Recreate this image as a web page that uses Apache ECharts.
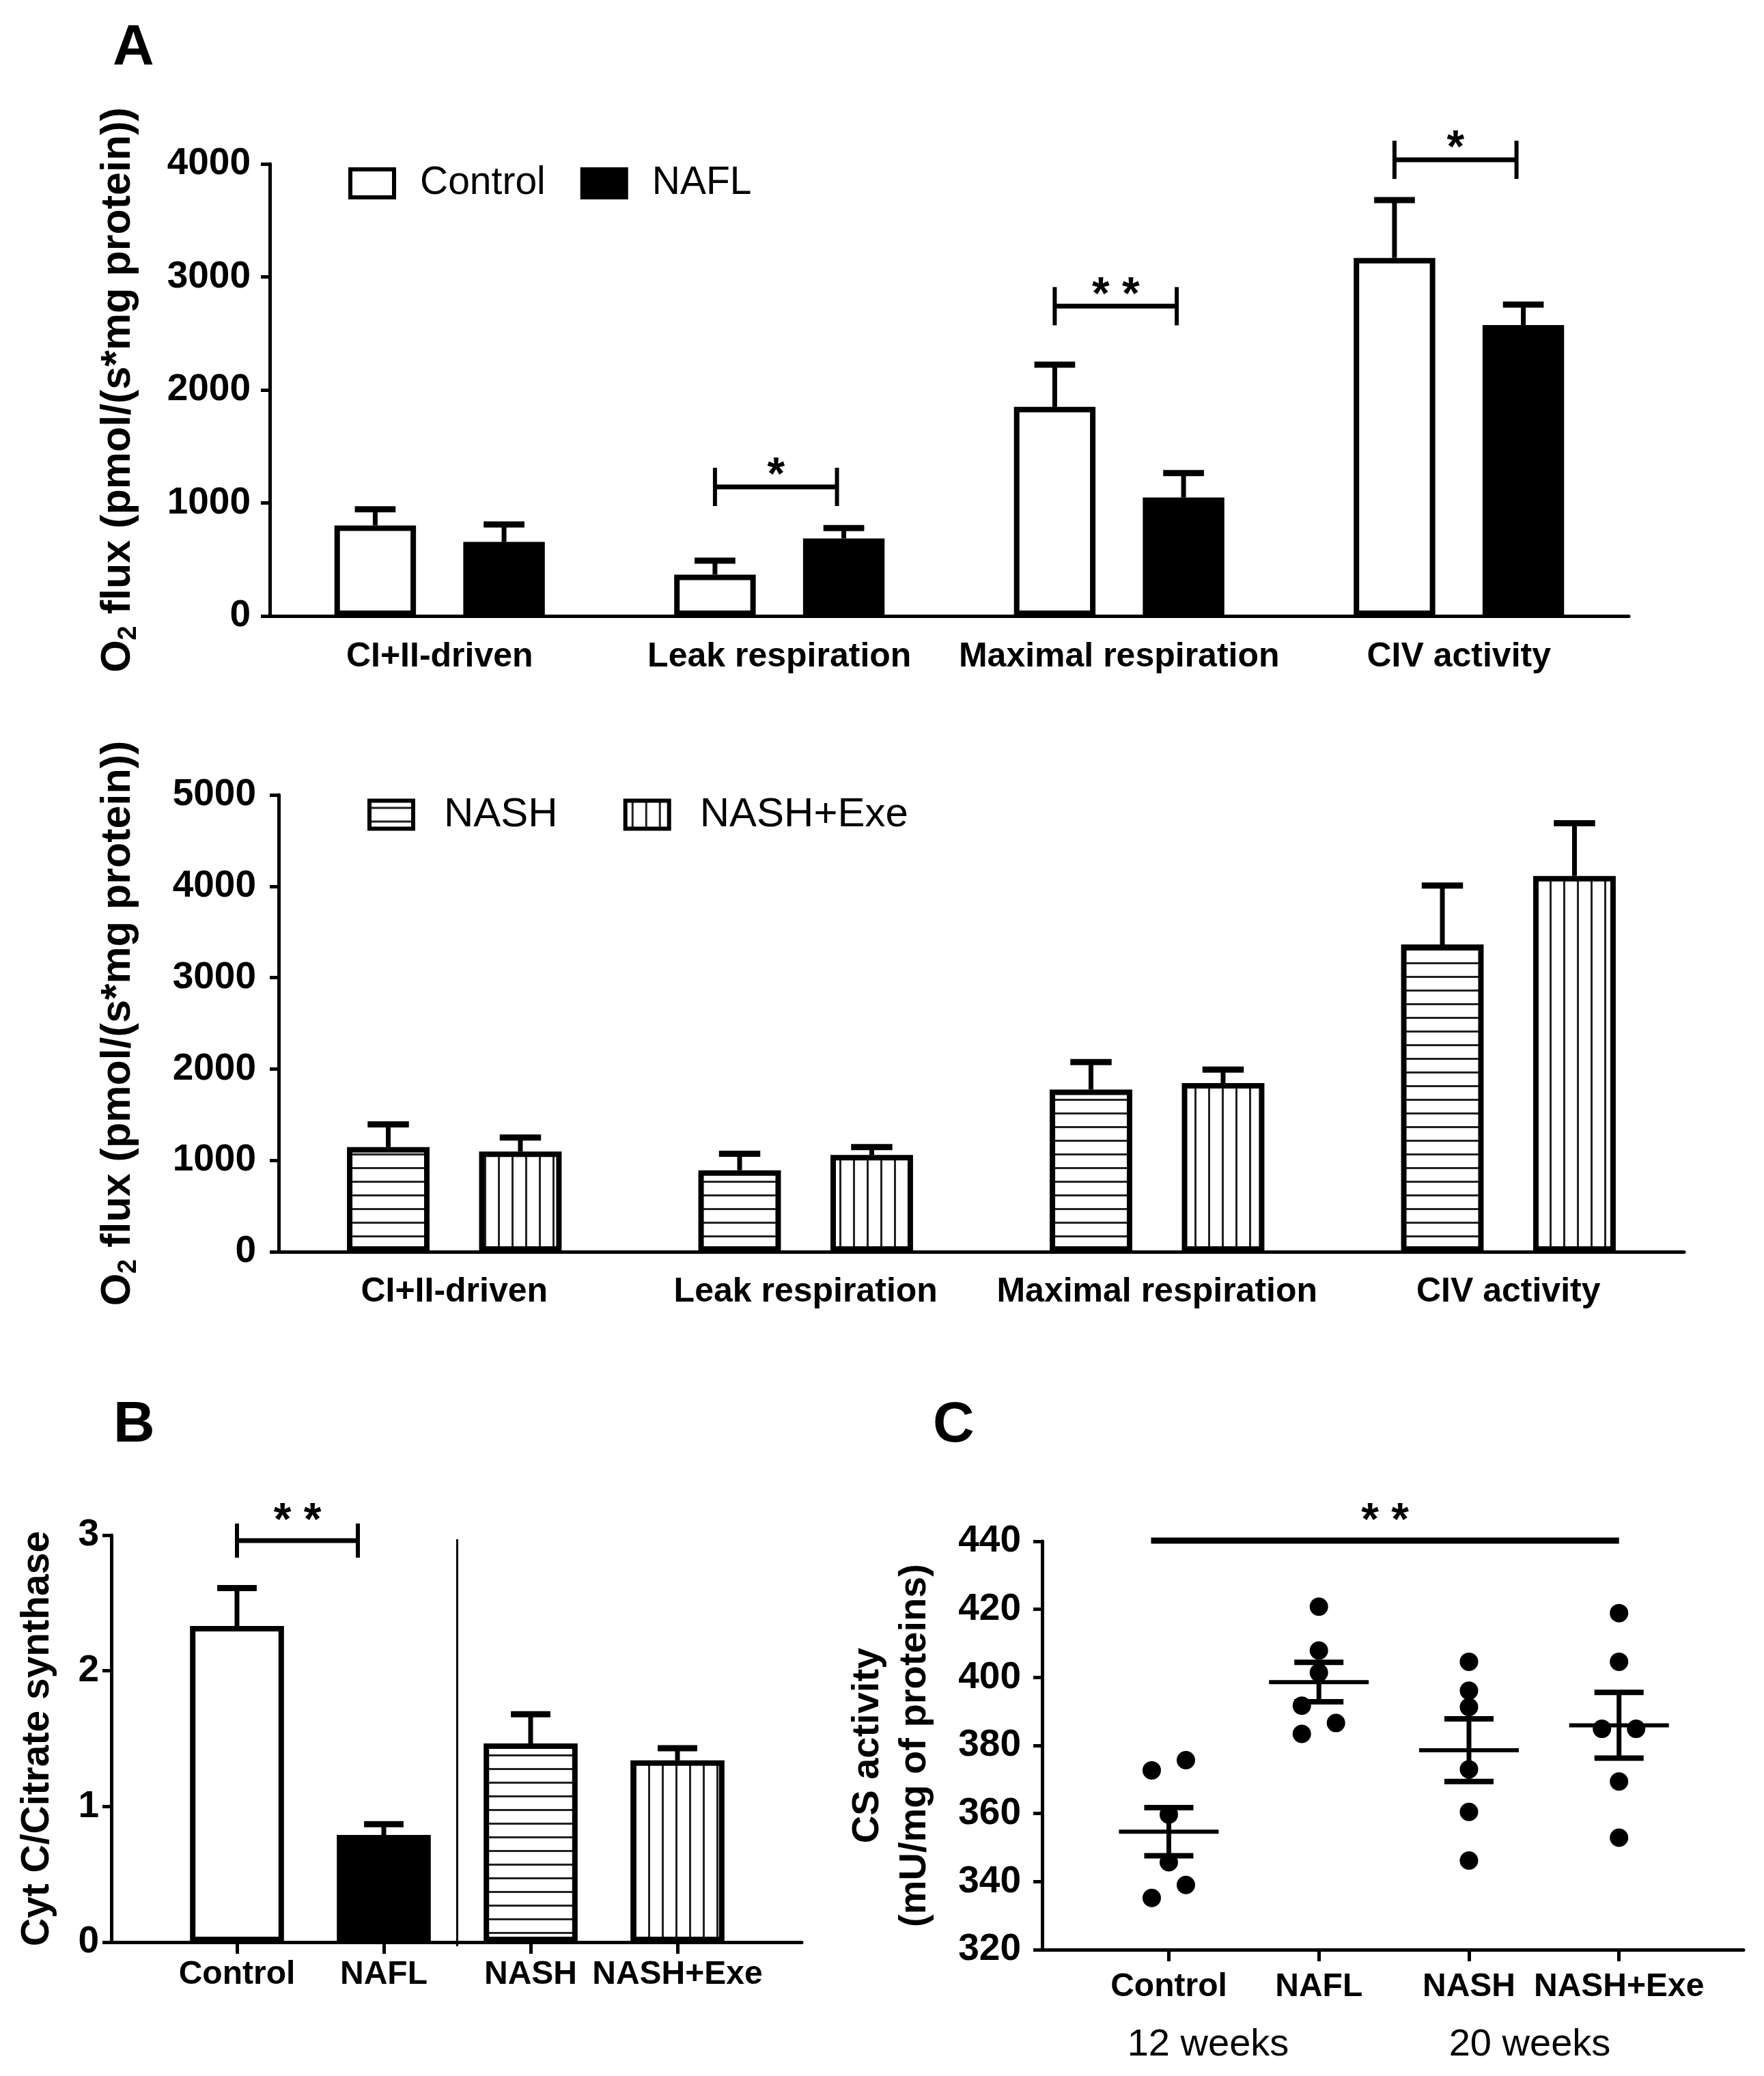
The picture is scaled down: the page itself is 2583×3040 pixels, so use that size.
<!DOCTYPE html>
<html><head><meta charset="utf-8">
<script src="https://cdn.jsdelivr.net/npm/echarts@6/dist/echarts.min.js"></script>
<style>html,body{margin:0;padding:0;background:#fff}#c{width:2583px;height:3040px}</style>
</head><body><div id="c"></div>
<script>
// ---------- DATA ----------
const respCategories = ['CI+II-driven', 'Leak respiration', 'Maximal respiration', 'CIV activity'];
const controlMean = [801, 366, 1850, 3168];
const controlSem  = [143, 123, 373, 512];
const naflMean    = [655, 686, 1048, 2574];
const naflSem     = [154, 92, 216, 181];
const nashMean    = [1145, 892, 1775, 3363];
const nashSem     = [248, 181, 300, 645];
const exeMean     = [1097, 1059, 1846, 4113];
const exeSem      = [153, 86, 148, 577];
const topSigCats   = [1, 2, 3];
const topSigY      = [1142, 2741, 4036];
const topSigLabels = ['*', '* *', '*'];

const groupCategories = ['Control', 'NAFL', 'NASH', 'NASH+Exe'];
const cytcMean = [2.33, 0.79, 1.465, 1.34];
const cytcSem  = [0.28, 0.08, 0.215, 0.09];
const cytcSig  = [[0, 1, 2.96, '* *']];
const cytcDivider = [[1, 2.97]];

const csControl = [372.7, 375.7, 359.7, 345.7, 339.0, 335.2];
const csNafl    = [420.8, 407.9, 401.4, 391.7, 386.6, 383.4];
const csNash    = [404.6, 396.1, 391.3, 373.0, 360.5, 346.2];
const csExe     = [418.9, 404.6, 384.9, 384.9, 369.4, 352.9];
const csControlJit = [-1, 1, 0, 0, 1, -1];
const csNaflJit    = [0, 0, 0, -1, 1, -1];
const csNashJit    = [0, 0, 0, 0, 0, 0];
const csExeJit     = [0, 0, -1, 1, 0, 0];
const csSig = [[0, 3, 440.2, '* *']];
const weekLabels = ['12 weeks', '20 weeks'];

// ---------- STYLE HELPERS ----------
const FONT = '"Liberation Sans", Arial, Helvetica, sans-serif';
function stripes(horizontal) {
  const c = document.createElement('canvas');
  c.width = 20; c.height = 20;
  const g = c.getContext('2d');
  g.fillStyle = '#fff'; g.fillRect(0, 0, 20, 20);
  g.fillStyle = '#222';
  if (horizontal) g.fillRect(0, 9, 20, 3); else g.fillRect(9, 0, 3, 20);
  return { image: c, repeat: 'repeat' };
}
const hPat = stripes(true), vPat = stripes(false);

function offs(bw, gap) { const tot = 2 * bw + gap * bw; return [-tot / 2 + bw / 2, tot / 2 - bw / 2]; }
const BW_A1 = 0.24, GAP_A1 = 0.58, BW_A2 = 0.235, GAP_A2 = 0.60, BW_B = 0.64;
const OFF_A1 = offs(BW_A1, GAP_A1), OFF_A2 = offs(BW_A2, GAP_A2);
const BORDER = 8;

function catAxis(grid, data, fs, margin, ticks, line) {
  return {
    type: 'category', gridIndex: grid, data: data,
    axisLine: { show: line, onZero: false, lineStyle: { color: '#000', width: 5 } },
    axisTick: { show: ticks, alignWithLabel: true, length: 17, lineStyle: { color: '#000', width: 5 } },
    axisLabel: { interval: 0, margin: margin, fontSize: fs, fontWeight: 'bold', color: '#000', fontFamily: FONT, lineHeight: fs + 4 },
    splitLine: { show: false }
  };
}
function lineAxis(grid) {
  return { type: 'value', gridIndex: grid, min: 0, max: 1,
    axisLine: { show: true, onZero: false, lineStyle: { color: '#000', width: 5 } },
    axisTick: { show: false }, axisLabel: { show: false }, splitLine: { show: false } };
}
function valAxis(grid, min, max, interval, margin, name, nameGap, nameStyle, show) {
  return {
    type: 'value', gridIndex: grid, min: min, max: max, interval: interval, show: show,
    axisLine: { show: true, onZero: false, lineStyle: { color: '#000', width: 5 } },
    axisTick: { show: true, length: 13, lineStyle: { color: '#000', width: 5 } },
    axisLabel: { margin: margin, fontSize: 55, fontWeight: 'bold', color: '#000', fontFamily: FONT,
      formatter: function (v) { return String(v); } },
    splitLine: { show: false },
    name: name, nameLocation: 'middle', nameGap: nameGap, nameRotate: 90, nameTextStyle: nameStyle
  };
}
const o2Name = '{m|O}{s|2}{m| flux (pmol/(s*mg protein))}';
const o2Style = { fontSize: 61, fontWeight: 'bold', color: '#000', fontFamily: FONT, lineHeight: 70,
  rich: { m: { fontSize: 61, fontWeight: 'bold', fontFamily: FONT, color: '#000', lineHeight: 70 },
          s: { fontSize: 38, fontWeight: 'bold', fontFamily: FONT, color: '#000', lineHeight: 40, verticalAlign: 'bottom' } } };

function errorSeries(xi, yi, means, sems, frac, bw, capFrac) {
  return {
    type: 'custom', xAxisIndex: xi, yAxisIndex: yi, z: 3, silent: true,
    data: means.map((m, i) => [i, m, m + sems[i]]),
    renderItem: function (p, api) {
      const a = api.coord([api.value(0), api.value(1)]);
      const b = api.coord([api.value(0), api.value(2)]);
      const cw = api.size([1, 0])[0];
      const x = a[0] + frac * cw;
      const cap = bw * cw * capFrac;
      return { type: 'group', children: [
        { type: 'line', shape: { x1: x, y1: a[1], x2: x, y2: b[1] }, style: { stroke: '#000', lineWidth: 7 } },
        { type: 'line', shape: { x1: x - cap / 2, y1: b[1], x2: x + cap / 2, y2: b[1] }, style: { stroke: '#000', lineWidth: 9 } }
      ] };
    }
  };
}
function starText(x, y, label) {
  return { type: 'text', style: { text: label, x: x, y: y, align: 'center', verticalAlign: 'middle',
    fontSize: 66, fontWeight: 'bold', fontFamily: FONT, fill: '#000' } };
}
function bracketA(xi, yi, cats, ys, labels, off) {
  return {
    type: 'custom', xAxisIndex: xi, yAxisIndex: yi, z: 4, silent: true,
    data: cats.map((c, i) => [c, ys[i], i]),
    renderItem: function (p, api) {
      const c = api.coord([api.value(0), api.value(1)]);
      const cw = api.size([1, 0])[0];
      const x1 = c[0] + off[0] * cw, x2 = c[0] + off[1] * cw - 10, y = c[1], h = 28;
      return { type: 'group', children: [
        { type: 'line', shape: { x1: x1, y1: y, x2: x2, y2: y }, style: { stroke: '#000', lineWidth: 7 } },
        { type: 'line', shape: { x1: x1, y1: y - h, x2: x1, y2: y + h }, style: { stroke: '#000', lineWidth: 6 } },
        { type: 'line', shape: { x1: x2, y1: y - h, x2: x2, y2: y + h }, style: { stroke: '#000', lineWidth: 6 } },
        starText((x1 + x2) / 2, y - 15, labels[api.value(2)])
      ] };
    }
  };
}
function jitterData(vals, jit, idx) {
  return vals.map((v, k) => ({ value: [idx, v], symbolOffset: [jit[k] * 25, 0] }));
}
function meanSem(vals) {
  const n = vals.length, m = vals.reduce((s, v) => s + v, 0) / n;
  const sd = Math.sqrt(vals.reduce((s, v) => s + (v - m) * (v - m), 0) / (n - 1));
  return [m, sd / Math.sqrt(n)];
}
const csGroups = [csControl, csNafl, csNash, csExe];

// ---------- CHART ----------
const chart = echarts.init(document.getElementById('c'), null, { renderer: 'canvas', width: 2583, height: 3040 });
const option = {
  animation: false,
  backgroundColor: '#fff',
  textStyle: { fontFamily: FONT, color: '#000' },
  grid: [
    { left: 395, top: 240, width: 1990, height: 662 },
    { left: 408, top: 1164, width: 2058, height: 669 },
    { left: 163, top: 2248, width: 1011, height: 596 },
    { left: 239.5, top: 2248, width: 860, height: 596 },
    { left: 1526, top: 2257, width: 1027, height: 598 },
    { left: 1601.6, top: 2257, width: 879, height: 598 }
  ],
  xAxis: [
    catAxis(0, respCategories, 50, 33, false, true),
    catAxis(1, respCategories, 50, 32, false, true),
    lineAxis(2),
    catAxis(3, groupCategories, 48, 22, true, false),
    lineAxis(4),
    catAxis(5, groupCategories, 48, 29, true, false)
  ],
  yAxis: [
    valAxis(0, 0, 4000, 1000, 28, o2Name, 187, o2Style, true),
    valAxis(1, 0, 5000, 1000, 33, o2Name, 200, o2Style, true),
    valAxis(2, 0, 3, 1, 18, 'Cyt C/Citrate synthase', 76,
      { fontSize: 57, fontWeight: 'bold', color: '#000', fontFamily: FONT, lineHeight: 64 }, true),
    valAxis(3, 0, 3, 1, 18, '', 0, {}, false),
    valAxis(4, 320, 440, 20, 31, 'CS activity\n(mU/mg of proteins)', 152,
      { fontSize: 56, fontWeight: 'bold', color: '#000', fontFamily: FONT, lineHeight: 69 }, true),
    valAxis(5, 320, 440, 20, 31, '', 0, {}, false)
  ],
  legend: [
    { data: ['Control', 'NAFL'], left: 510, top: 240, padding: 0, itemWidth: 64, itemHeight: 41, itemGap: 51,
      icon: 'rect', selectedMode: false,
      itemStyle: { borderColor: '#000', borderWidth: 6 },
      textStyle: { fontSize: 57, fontFamily: FONT, color: '#000', lineHeight: 41, padding: [0, 0, 0, 33] } },
    { data: ['NASH', 'NASH+Exe'], left: 538, top: 1163, padding: 0, itemWidth: 64, itemHeight: 41, itemGap: 96,
      icon: 'rect', selectedMode: false,
      itemStyle: { borderColor: '#000', borderWidth: 6 },
      textStyle: { fontSize: 60, fontFamily: FONT, color: '#000', lineHeight: 41, padding: [0, 0, 0, 40] } }
  ],
  graphic: [
    { type: 'text', left: 165, top: 30, style: { text: 'A', fontSize: 84, fontWeight: 'bold', fontFamily: FONT, fill: '#000' } },
    { type: 'text', left: 166, top: 2046, style: { text: 'B', fontSize: 84, fontWeight: 'bold', fontFamily: FONT, fill: '#000' } },
    { type: 'text', left: 1366, top: 2046, style: { text: 'C', fontSize: 84, fontWeight: 'bold', fontFamily: FONT, fill: '#000' } },
    { type: 'text', x: 1769, y: 2995, style: { text: weekLabels[0], align: 'center', verticalAlign: 'middle', fontSize: 56, fontFamily: FONT, fill: '#000' } },
    { type: 'text', x: 2240, y: 2995, style: { text: weekLabels[1], align: 'center', verticalAlign: 'middle', fontSize: 56, fontFamily: FONT, fill: '#000' } }
  ],
  series: [
    { name: 'Control', type: 'bar', xAxisIndex: 0, yAxisIndex: 0, data: controlMean, barWidth: (BW_A1 * 100) + '%', barGap: (GAP_A1 * 100) + '%',
      itemStyle: { color: '#fff', borderColor: '#000', borderWidth: BORDER }, z: 2 },
    { name: 'NAFL', type: 'bar', xAxisIndex: 0, yAxisIndex: 0, data: naflMean, barWidth: (BW_A1 * 100) + '%', barGap: (GAP_A1 * 100) + '%',
      itemStyle: { color: '#000', borderColor: '#000', borderWidth: BORDER }, z: 2 },
    errorSeries(0, 0, controlMean, controlSem, OFF_A1[0], BW_A1, 0.5),
    errorSeries(0, 0, naflMean, naflSem, OFF_A1[1], BW_A1, 0.5),
    bracketA(0, 0, topSigCats, topSigY, topSigLabels, OFF_A1),

    { name: 'NASH', type: 'bar', xAxisIndex: 1, yAxisIndex: 1, data: nashMean, barWidth: (BW_A2 * 100) + '%', barGap: (GAP_A2 * 100) + '%',
      itemStyle: { color: hPat, borderColor: '#000', borderWidth: BORDER }, z: 2 },
    { name: 'NASH+Exe', type: 'bar', xAxisIndex: 1, yAxisIndex: 1, data: exeMean, barWidth: (BW_A2 * 100) + '%', barGap: (GAP_A2 * 100) + '%',
      itemStyle: { color: vPat, borderColor: '#000', borderWidth: BORDER }, z: 2 },
    errorSeries(1, 1, nashMean, nashSem, OFF_A2[0], BW_A2, 0.5),
    errorSeries(1, 1, exeMean, exeSem, OFF_A2[1], BW_A2, 0.5),

    { name: 'cytc', type: 'bar', xAxisIndex: 3, yAxisIndex: 3, barWidth: (BW_B * 100) + '%',
      data: cytcMean.map((v, i) => ({ value: v, itemStyle: { color: ['#fff', '#000', hPat, vPat][i] } })),
      itemStyle: { borderColor: '#000', borderWidth: BORDER }, z: 2 },
    errorSeries(3, 3, cytcMean, cytcSem, 0, BW_B, 0.42),
    { type: 'custom', xAxisIndex: 3, yAxisIndex: 3, z: 4, silent: true, data: cytcSig,
      renderItem: function (p, api) {
        const a = api.coord([api.value(0), api.value(2)]);
        const b = api.coord([api.value(1), api.value(2)]);
        const x1 = a[0], x2 = b[0] - 38, y = a[1], h = 25;
        return { type: 'group', children: [
          { type: 'line', shape: { x1: x1, y1: y, x2: x2, y2: y }, style: { stroke: '#000', lineWidth: 7 } },
          { type: 'line', shape: { x1: x1, y1: y - h, x2: x1, y2: y + h }, style: { stroke: '#000', lineWidth: 6 } },
          { type: 'line', shape: { x1: x2, y1: y - h, x2: x2, y2: y + h }, style: { stroke: '#000', lineWidth: 6 } },
          starText((x1 + x2) / 2, y - 27, cytcSig[p.dataIndex][3])
        ] };
      } },
    { type: 'custom', xAxisIndex: 3, yAxisIndex: 3, z: 4, silent: true, data: cytcDivider,
      renderItem: function (p, api) {
        const a = api.coord([api.value(0), api.value(1)]);
        const b = api.coord([api.value(0), 0]);
        const cw = api.size([1, 0])[0];
        const x = a[0] + cw / 2;
        return { type: 'line', shape: { x1: x, y1: a[1], x2: x, y2: b[1] + 6 }, style: { stroke: '#000', lineWidth: 3 } };
      } },

    { name: 'cs', type: 'scatter', xAxisIndex: 5, yAxisIndex: 5, symbol: 'circle', symbolSize: 27, z: 2,
      itemStyle: { color: '#000', opacity: 1 },
      data: [].concat(jitterData(csControl, csControlJit, 0), jitterData(csNafl, csNaflJit, 1),
                      jitterData(csNash, csNashJit, 2), jitterData(csExe, csExeJit, 3)) },
    { type: 'custom', xAxisIndex: 5, yAxisIndex: 5, z: 3, silent: true,
      data: csGroups.map((g, i) => { const ms = meanSem(g); return [i, ms[0], ms[1]]; }),
      renderItem: function (p, api) {
        const m = api.value(1), s = api.value(2);
        const c = api.coord([api.value(0), m]);
        const hi = api.coord([api.value(0), m + s]);
        const lo = api.coord([api.value(0), m - s]);
        const x = c[0];
        return { type: 'group', children: [
          { type: 'line', shape: { x1: x - 73, y1: c[1], x2: x + 73, y2: c[1] }, style: { stroke: '#000', lineWidth: 6 } },
          { type: 'line', shape: { x1: x, y1: hi[1], x2: x, y2: lo[1] }, style: { stroke: '#000', lineWidth: 7 } },
          { type: 'line', shape: { x1: x - 36, y1: hi[1], x2: x + 36, y2: hi[1] }, style: { stroke: '#000', lineWidth: 8 } },
          { type: 'line', shape: { x1: x - 36, y1: lo[1], x2: x + 36, y2: lo[1] }, style: { stroke: '#000', lineWidth: 8 } }
        ] };
      } },
    { type: 'custom', xAxisIndex: 5, yAxisIndex: 5, z: 4, silent: true, data: csSig,
      renderItem: function (p, api) {
        const a = api.coord([api.value(0), api.value(2)]);
        const b = api.coord([api.value(1), api.value(2)]);
        const x1 = a[0] - 26, x2 = b[0], y = a[1];
        return { type: 'group', children: [
          { type: 'line', shape: { x1: x1, y1: y, x2: x2, y2: y }, style: { stroke: '#000', lineWidth: 9 } },
          starText((x1 + x2) / 2, y - 27, csSig[p.dataIndex][3])
        ] };
      } }
  ]
};
chart.setOption(option);
</script>
</body></html>
